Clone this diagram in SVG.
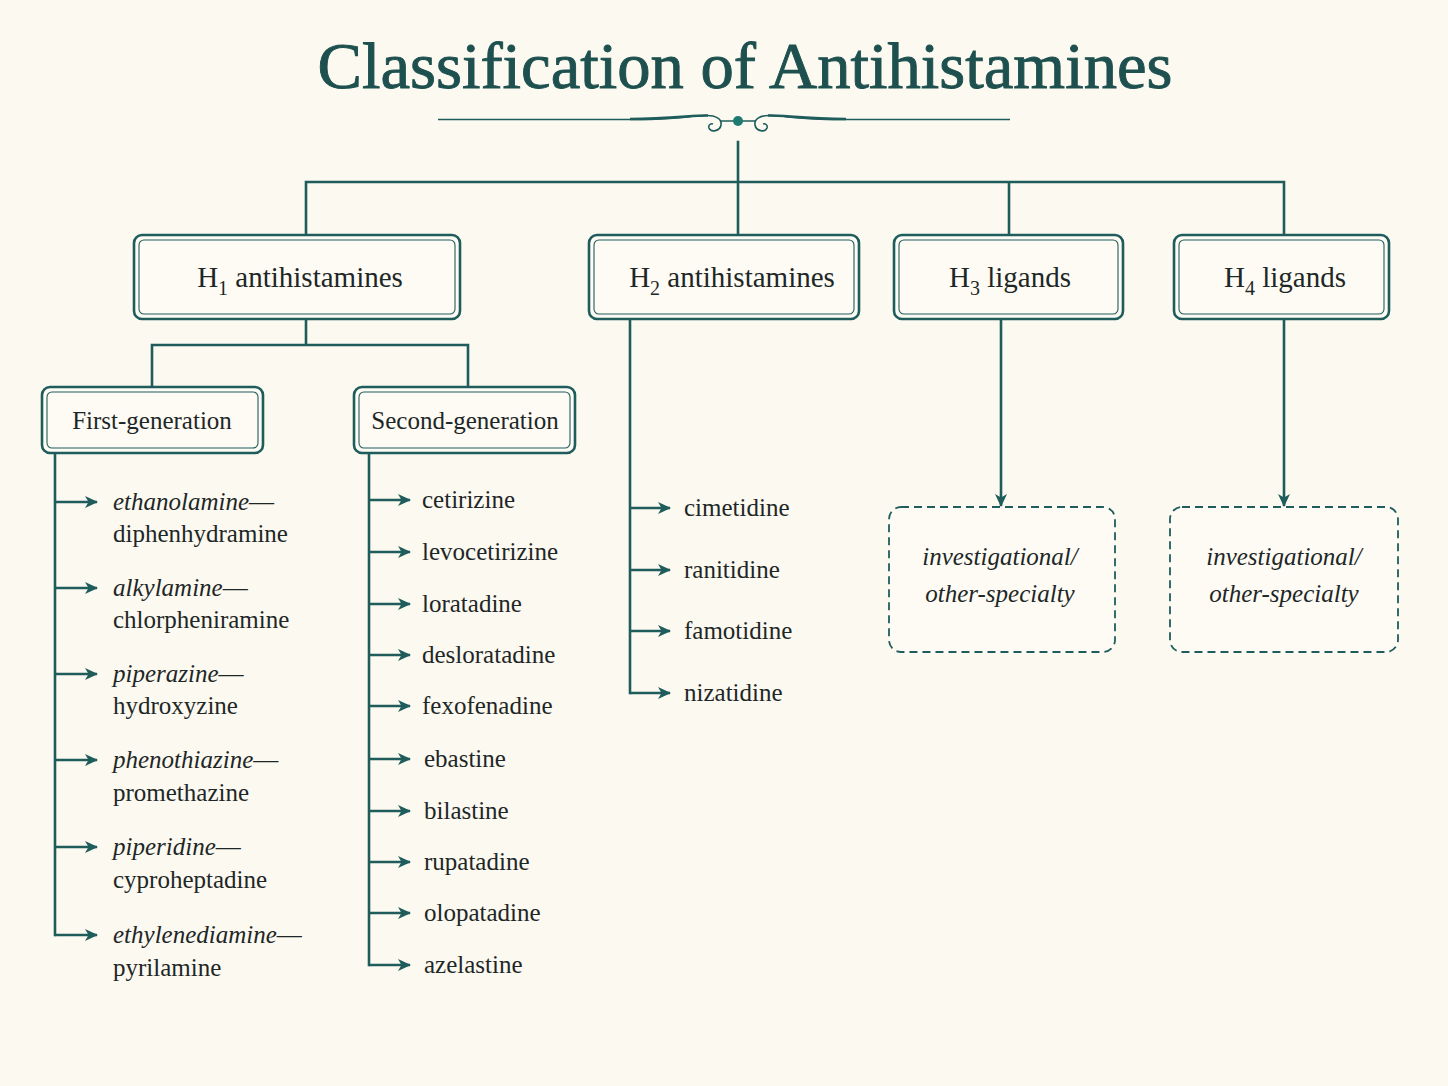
<svg xmlns="http://www.w3.org/2000/svg" width="1448" height="1086" viewBox="0 0 1448 1086">
<defs>
<marker id="ah" markerUnits="userSpaceOnUse" markerWidth="14" markerHeight="14" viewBox="0 0 14 14" refX="12" refY="7" orient="auto">
<path d="M0,1 L13,7 L0,13 L3.5,7 Z" fill="#1f5d5d"/>
</marker>
<style>
.bg{fill:#fcf9f0}
.ln{fill:none;stroke:#1f5d5d;stroke-width:2.6;stroke-linecap:square}
.ar{fill:none;stroke:#1f5d5d;stroke-width:2.6;marker-end:url(#ah)}
.bo{fill:#fdfbf4;stroke:#1f5d5d;stroke-width:2.6}
.bi{fill:none;stroke:#1f5d5d;stroke-width:1.1}
.bd{fill:#fdfbf4;stroke:#1f5d5d;stroke-width:1.8;stroke-dasharray:8 5}
.t{font-family:"Liberation Serif","DejaVu Serif",serif;fill:#1e2727}
.hd{font-size:29px}
.sb{font-size:25px}
.it{font-size:25px;font-style:italic}
.li{font-size:25px}
.ti{font-family:"Liberation Serif","DejaVu Serif",serif;fill:#1d504e;stroke:#1d504e;stroke-width:0.9;font-size:66px}
</style>
</defs>
<rect class="bg" x="0" y="0" width="1448" height="1086"/>

<g id="title">
<text class="ti" x="745" y="88" text-anchor="middle" textLength="855" lengthAdjust="spacingAndGlyphs">Classification of Antihistamines</text>
<path d="M438,119.5 L640,119.5 C670,119.5 690,116 705,115.5 C716,115 722,119 721,125 C720,131 711,133 709,128 C708,125 711,123 713,124" fill="none" stroke="#1f5d5d" stroke-width="1.6"/>
<path d="M1010,119.5 L836,119.5 C806,119.5 786,116 771,115.5 C760,115 754,119 755,125 C756,131 765,133 767,128 C768,125 765,123 763,124" fill="none" stroke="#1f5d5d" stroke-width="1.6"/>
<path d="M630,119 C670,119 695,115 708,115.5" fill="none" stroke="#1f5d5d" stroke-width="2.6"/>
<path d="M846,119 C806,119 781,115 768,115.5" fill="none" stroke="#1f5d5d" stroke-width="2.6"/>
<line x1="721" y1="121" x2="755" y2="121" stroke="#1f5d5d" stroke-width="1.6"/>
<circle cx="738" cy="121" r="5" fill="#1f7a74"/>
</g>

<g id="connectors">
<path class="ln" d="M738,142 L738,236 M306,236 L306,182 L1284,182 L1284,236 M1009,182 L1009,236"/>
<path class="ln" d="M306,319 L306,345 M152,388 L152,345 L468,345 L468,388"/>
<path class="ln" d="M55,453 L55,935 M369,453 L369,965 M630,319 L630,693"/>
<path class="ar" d="M55,502 L97,502"/>
<path class="ar" d="M55,588 L97,588"/>
<path class="ar" d="M55,674 L97,674"/>
<path class="ar" d="M55,760 L97,760"/>
<path class="ar" d="M55,847 L97,847"/>
<path class="ar" d="M55,935 L97,935"/>
<path class="ar" d="M369,500 L410,500"/>
<path class="ar" d="M369,552 L410,552"/>
<path class="ar" d="M369,604 L410,604"/>
<path class="ar" d="M369,655 L410,655"/>
<path class="ar" d="M369,706 L410,706"/>
<path class="ar" d="M369,759 L410,759"/>
<path class="ar" d="M369,811 L410,811"/>
<path class="ar" d="M369,862 L410,862"/>
<path class="ar" d="M369,913 L410,913"/>
<path class="ar" d="M369,965 L410,965"/>
<path class="ar" d="M630,508 L670,508"/>
<path class="ar" d="M630,570 L670,570"/>
<path class="ar" d="M630,631 L670,631"/>
<path class="ar" d="M630,693 L670,693"/>
<path class="ar" d="M1001,319 L1001,506"/>
<path class="ar" d="M1284,319 L1284,506"/>
</g>

<g id="h1">
<rect class="bo" x="134" y="235" width="326" height="84" rx="8"/>
<rect class="bi" x="139" y="240" width="316" height="74" rx="5"/>
<text class="t hd" x="300" y="287" text-anchor="middle">H<tspan font-size="20" dy="8">1</tspan><tspan dy="-8"> antihistamines</tspan></text>
</g>
<g id="h2">
<rect class="bo" x="589" y="235" width="270" height="84" rx="8"/>
<rect class="bi" x="594" y="240" width="260" height="74" rx="5"/>
<text class="t hd" x="732" y="287" text-anchor="middle">H<tspan font-size="20" dy="8">2</tspan><tspan dy="-8"> antihistamines</tspan></text>
</g>
<g id="h3">
<rect class="bo" x="894" y="235" width="229" height="84" rx="8"/>
<rect class="bi" x="899" y="240" width="219" height="74" rx="5"/>
<text class="t hd" x="1010" y="287" text-anchor="middle">H<tspan font-size="20" dy="8">3</tspan><tspan dy="-8"> ligands</tspan></text>
</g>
<g id="h4">
<rect class="bo" x="1174" y="235" width="215" height="84" rx="8"/>
<rect class="bi" x="1179" y="240" width="205" height="74" rx="5"/>
<text class="t hd" x="1285" y="287" text-anchor="middle">H<tspan font-size="20" dy="8">4</tspan><tspan dy="-8"> ligands</tspan></text>
</g>

<g id="first-gen">
<rect class="bo" x="42" y="387" width="221" height="66" rx="8"/>
<rect class="bi" x="47" y="392" width="211" height="56" rx="5"/>
<text class="t sb" x="152" y="429" text-anchor="middle">First-generation</text>
</g>
<g id="second-gen">
<rect class="bo" x="354" y="387" width="221" height="66" rx="8"/>
<rect class="bi" x="359" y="392" width="211" height="56" rx="5"/>
<text class="t sb" x="465" y="429" text-anchor="middle">Second-generation</text>
</g>

<g id="first-gen-items">
<text class="t it" x="113" y="510">ethanolamine<tspan font-style="normal">—</tspan></text>
<text class="t li" x="113" y="542">diphenhydramine</text>
<text class="t it" x="113" y="596">alkylamine<tspan font-style="normal">—</tspan></text>
<text class="t li" x="113" y="628">chlorpheniramine</text>
<text class="t it" x="113" y="682">piperazine<tspan font-style="normal">—</tspan></text>
<text class="t li" x="113" y="714">hydroxyzine</text>
<text class="t it" x="113" y="768">phenothiazine<tspan font-style="normal">—</tspan></text>
<text class="t li" x="113" y="801">promethazine</text>
<text class="t it" x="113" y="855">piperidine<tspan font-style="normal">—</tspan></text>
<text class="t li" x="113" y="888">cyproheptadine</text>
<text class="t it" x="113" y="943">ethylenediamine<tspan font-style="normal">—</tspan></text>
<text class="t li" x="113" y="976">pyrilamine</text>
</g>

<g id="second-gen-items">
<text class="t li" x="422" y="508">cetirizine</text>
<text class="t li" x="422" y="560">levocetirizine</text>
<text class="t li" x="422" y="612">loratadine</text>
<text class="t li" x="422" y="663">desloratadine</text>
<text class="t li" x="422" y="714">fexofenadine</text>
<text class="t li" x="424" y="767">ebastine</text>
<text class="t li" x="424" y="819">bilastine</text>
<text class="t li" x="424" y="870">rupatadine</text>
<text class="t li" x="424" y="921">olopatadine</text>
<text class="t li" x="424" y="973">azelastine</text>
</g>

<g id="h2-items">
<text class="t li" x="684" y="516">cimetidine</text>
<text class="t li" x="684" y="578">ranitidine</text>
<text class="t li" x="684" y="639">famotidine</text>
<text class="t li" x="684" y="701">nizatidine</text>
</g>

<g id="h3-other">
<rect class="bd" x="889" y="507" width="226" height="145" rx="12"/>
<text class="t it" x="1000" y="565" text-anchor="middle">investigational/</text>
<text class="t it" x="1000" y="602" text-anchor="middle">other-specialty</text>
</g>
<g id="h4-other">
<rect class="bd" x="1170" y="507" width="228" height="145" rx="12"/>
<text class="t it" x="1284" y="565" text-anchor="middle">investigational/</text>
<text class="t it" x="1284" y="602" text-anchor="middle">other-specialty</text>
</g>
</svg>
